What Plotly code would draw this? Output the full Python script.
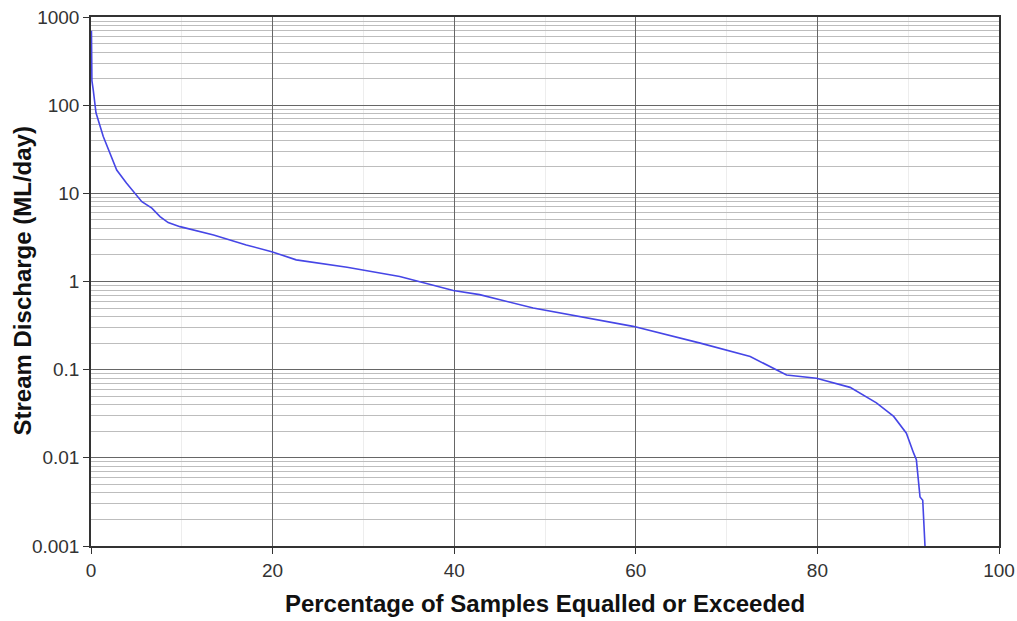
import plotly.graph_objects as go

# Flow duration curve
pct_exceeded = [0.05, 0.1, 0.25, 0.55, 1.35, 2.83, 3.9, 4.85, 5.6, 6.7, 7.6, 8.5, 9.8,
                13.5, 17.1, 19.9, 22.6, 28.2, 34.0, 39.9, 42.8, 48.7, 59.7, 67.1,
                72.6, 76.6, 79.9, 83.6, 86.5, 88.4, 89.8, 90.6, 90.9, 91.3, 91.6, 91.85]
discharge = [700, 190, 148, 82, 44, 18.4, 13.1, 10.1, 8.05, 6.8, 5.45, 4.66, 4.19,
             3.37, 2.6, 2.18, 1.76, 1.45, 1.14, 0.79, 0.71, 0.50, 0.31, 0.20,
             0.141, 0.087, 0.080, 0.063, 0.042, 0.0295, 0.019, 0.0113, 0.0095, 0.0036, 0.0033, 0.001]

y_tickvals = [0.001, 0.01, 0.1, 1, 10, 100, 1000]
y_ticktext = ["0.001", "0.01", "0.1", "1", "10", "100", "1000"]
x_tickvals = [0, 20, 40, 60, 80, 100]
y_minor = [m * 10 ** e for e in range(-3, 3) for m in range(2, 10)]
x_title = "Percentage of Samples Equalled or Exceeded"
y_title = "Stream Discharge (ML/day)"

fig = go.Figure()
fig.add_trace(go.Scatter(x=pct_exceeded, y=discharge, mode="lines",
                         line=dict(color="#4646e6", width=1.6), showlegend=False))

font_family = "Liberation Sans, Arial, sans-serif"
fig.update_layout(
    width=1017, height=621,
    margin=dict(l=91, r=18, t=17, b=75, autoexpand=False),
    plot_bgcolor="white", paper_bgcolor="white",
    font=dict(family=font_family, color="#222", size=19),
)
fig.update_xaxes(
    range=[0, 100], tickmode="array", tickvals=x_tickvals, automargin=False,
    ticklabeloverflow="allow",
    showline=True, linecolor="#333", linewidth=1.5, mirror=True,
    ticks="outside", ticklen=6, tickcolor="#333",
    showgrid=True, gridcolor="#666", gridwidth=1, zeroline=False,
    minor=dict(tickmode="array", tickvals=[10, 30, 50, 70, 90], showgrid=True,
               gridcolor="#ededed", ticks=""),
    tickfont=dict(size=19, color="#333"),
    title=dict(text="<b>" + x_title + "</b>",
               font=dict(size=24, color="#111"), standoff=16),
)
fig.update_yaxes(
    type="log", range=[-3, 3], tickmode="array", tickvals=y_tickvals, ticktext=y_ticktext,
    automargin=False, ticklabeloverflow="allow",
    showline=True, linecolor="#333", linewidth=1.5, mirror=True,
    ticks="outside", ticklen=6, tickcolor="#333",
    showgrid=True, gridcolor="#666", gridwidth=1, zeroline=False,
    minor=dict(tickmode="array", tickvals=y_minor, showgrid=True,
               gridcolor="#bdbdbd", ticks=""),
    tickfont=dict(size=19, color="#333"),
)
fig.add_annotation(
    text="<b>" + y_title + "</b>", textangle=-90,
    xref="paper", yref="paper", x=-69 / 908, y=0.5, xanchor="center", yanchor="middle",
    showarrow=False, font=dict(size=24, color="#111"),
)

# remove the default 8px page margin so the 1017x621 figure fills the window exactly
fig.write_html("out.html", config={"displayModeBar": False},
               post_script="document.body.style.margin='0';document.body.style.overflow='hidden';")
